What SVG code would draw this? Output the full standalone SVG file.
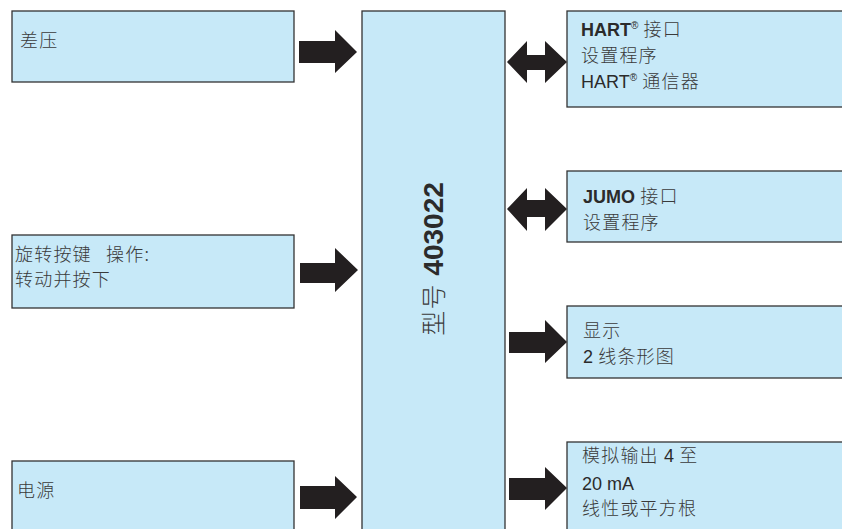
<svg xmlns="http://www.w3.org/2000/svg" width="842" height="529" viewBox="0 0 842 529">
<style>
.box{fill:#c7e9f8;stroke:#333;stroke-width:1.3}
.arr{fill:#231f20}
text{font-family:"Liberation Sans","Noto Sans CJK SC",sans-serif;font-size:18px;fill:#2b2b2b}
.cj{font-family:"Noto Sans CJK SC","Liberation Sans",sans-serif;font-weight:300;fill:#3a3a3a;letter-spacing:1.2px}
.b{font-weight:bold}
.sup{font-size:10px}
</style>
<rect width="842" height="529" fill="#fff"/>
<g id="n-chaya"><rect class="box" x="12" y="11" width="282" height="71"/><text class="cj" x="20" y="47">差压</text></g>
<g id="n-knob"><rect class="box" x="12" y="235" width="282" height="73"/><text class="cj" x="15" y="261">旋转按键<tspan x="106">操作:</tspan></text><text class="cj" x="15" y="286">转动并按下</text></g>
<g id="n-power"><rect class="box" x="12" y="461" width="282" height="80"/><text class="cj" x="17" y="497">电源</text></g>
<g id="n-main"><rect class="box" x="362" y="11" width="143" height="530"/><text transform="translate(443,259) rotate(-90)" text-anchor="middle" font-size="28"><tspan class="cj" font-size="25" letter-spacing="0">型号</tspan><tspan class="b" font-size="28"> 403022</tspan></text></g>
<g id="n-hart"><rect class="box" x="567" y="11" width="290" height="96"/><text x="581" y="36"><tspan class="b">HART</tspan><tspan class="sup" dy="-7">®</tspan><tspan class="cj" dy="7"> 接口</tspan></text><text class="cj" x="581" y="62">设置程序</text><text x="581" y="88">HART<tspan class="sup" dy="-7">®</tspan><tspan class="cj" dy="7"> 通信器</tspan></text></g>
<g id="n-jumo"><rect class="box" x="567" y="171" width="290" height="71"/><text x="583" y="203"><tspan class="b">JUMO</tspan><tspan class="cj"> 接口</tspan></text><text class="cj" x="583" y="229">设置程序</text></g>
<g id="n-display"><rect class="box" x="567" y="306" width="290" height="72"/><text class="cj" x="583" y="337">显示</text><text x="583" y="363">2<tspan class="cj"> 线条形图</tspan></text></g>
<g id="n-analog"><rect class="box" x="567" y="442" width="290" height="100"/><text x="582" y="462"><tspan class="cj">模拟输出 </tspan>4<tspan class="cj"> 至</tspan></text><text x="582" y="490">20 mA</text><text class="cj" x="582" y="515">线性或平方根</text></g>
<g id="connectors">
<polygon class="arr" points="299,41 335,41 335,30 357,52 335,73 335,63 299,63"/>
<polygon class="arr" points="300,263 335,263 335,248 358,270 335,292 335,283 300,283"/>
<polygon class="arr" points="300,486 335,486 335,476 357,497 335,519 335,509 300,509"/>
<polygon class="arr" points="507,62 527,41 527,55 545,55 545,41 567,62 545,83 545,70 527,70 527,83"/>
<polygon class="arr" points="507,209 527,188 527,200 545,200 545,188 567,209 545,231 545,217 527,217 527,231"/>
<polygon class="arr" points="509,332 545,332 545,320 567,342 545,363 545,353 509,353"/>
<polygon class="arr" points="509,478 545,478 545,467 567,488 545,510 545,500 509,500"/>
</g>
</svg>
